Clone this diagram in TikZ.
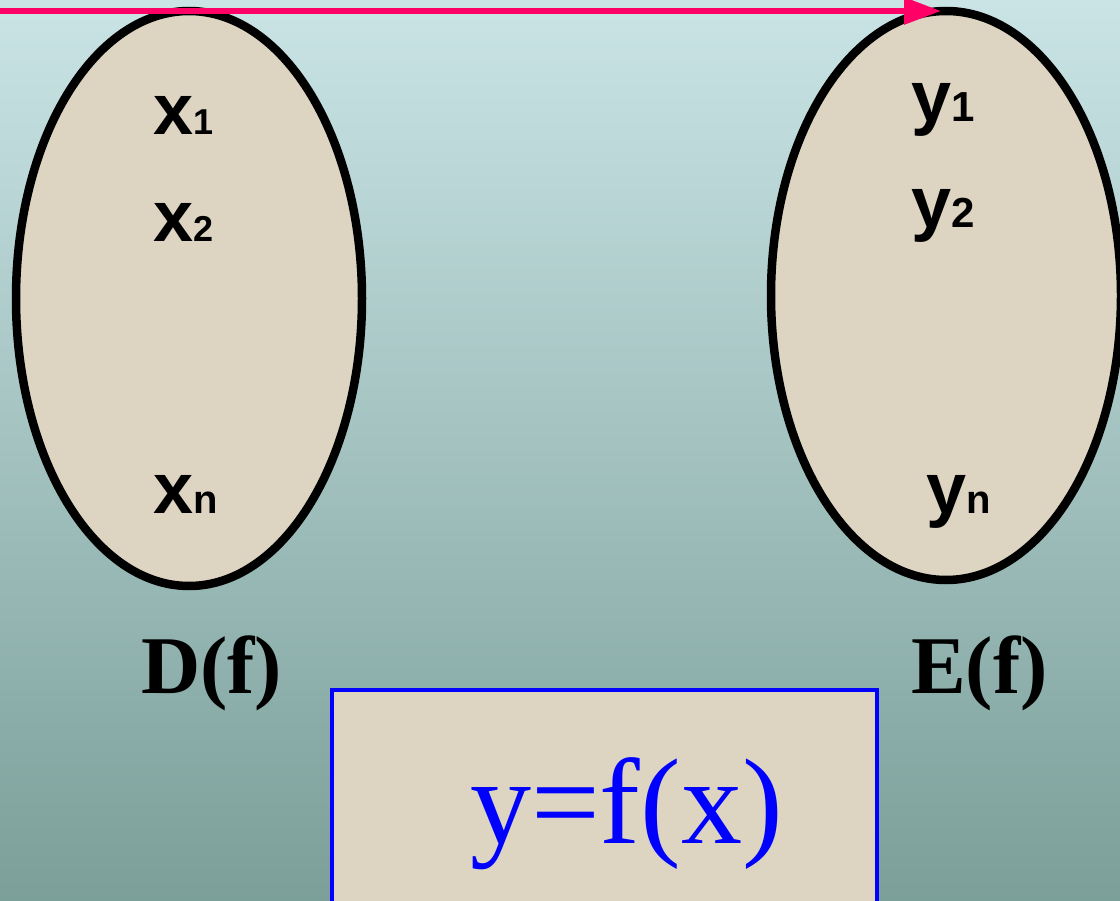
\documentclass[tikz,border=0pt]{standalone}
\usepackage{fontspec}
\setmainfont{Liberation Serif}
\newfontfamily\arialfont{Liberation Sans}
\usetikzlibrary{shapes.geometric,arrows.meta}
\definecolor{bgtop}{HTML}{CAE4E6}
\definecolor{bgbot}{HTML}{7B9F99}
\definecolor{beige}{HTML}{DDD4C2}
\definecolor{arrowpink}{HTML}{FF0066}
\definecolor{pureblue}{HTML}{0000FF}
\tikzset{
  setoval/.style={ellipse, draw=black, fill=beige, line width=8.5pt, inner sep=0pt, outer sep=0pt},
  elemlabel/.style={anchor=base west, inner sep=0pt, outer sep=0pt, font=\arialfont\bfseries},
  setname/.style={anchor=base west, inner sep=0pt, outer sep=0pt, font=\fontsize{82}{82}\selectfont\bfseries},
  mapbox/.style={rectangle, draw=pureblue, fill=beige, line width=4pt, inner sep=0pt, outer sep=0pt},
  maparrow/.style={draw=arrowpink, line width=6pt, -{Triangle[length=37pt,width=26pt]}}
}
\newcommand{\mainletter}[1]{{\fontsize{72}{72}\selectfont #1}}
\newcommand{\subletter}[2]{{\fontsize{#1}{#1}\selectfont #2}}
\begin{document}
\begin{tikzpicture}[x=1pt,y=-1pt]
\useasboundingbox (0,0) rectangle (1120,901);
\fill[top color=bgtop, bottom color=bgbot] (0,0) rectangle (1120,901);
% sets
\node[setoval, minimum width=346pt, minimum height=575pt] (L) at (189,298.5) {};
\node[setoval, minimum width=350pt, minimum height=569pt] (R) at (946,295.5) {};
% elements
\node[elemlabel] (x1) at (153,135) {\mainletter{x}\subletter{36}{1}};
\node[elemlabel] (x2) at (153,242) {\mainletter{x}\subletter{36}{2}};
\node[elemlabel] (xn) at (153,513) {\mainletter{x}\subletter{40}{n}};
\node[elemlabel] (y1) at (911,122) {\mainletter{y}\subletter{42}{1}};
\node[elemlabel] (y2) at (911,228) {\mainletter{y}\subletter{42}{2}};
\node[elemlabel] (yn) at (926,513) {\mainletter{y}\subletter{40}{n}};
% set names
\node[setname] (D) at (141,693) {D(f)};
\node[setname] (E) at (911,693) {E(f)};
% map box
\node[mapbox, minimum width=545pt, minimum height=260pt] (box) at (604.5,820) {};
\node[anchor=base, inner sep=0pt, text=pureblue, font=\fontsize{122}{122}\selectfont] (fx) at (626.5,843) {y=f(x)};
% arrow
\coordinate (start) at (0,11);
\coordinate (tip) at ([xshift=-5pt]R.north);
\draw[maparrow] (start) -- (tip);
\end{tikzpicture}
\end{document}
